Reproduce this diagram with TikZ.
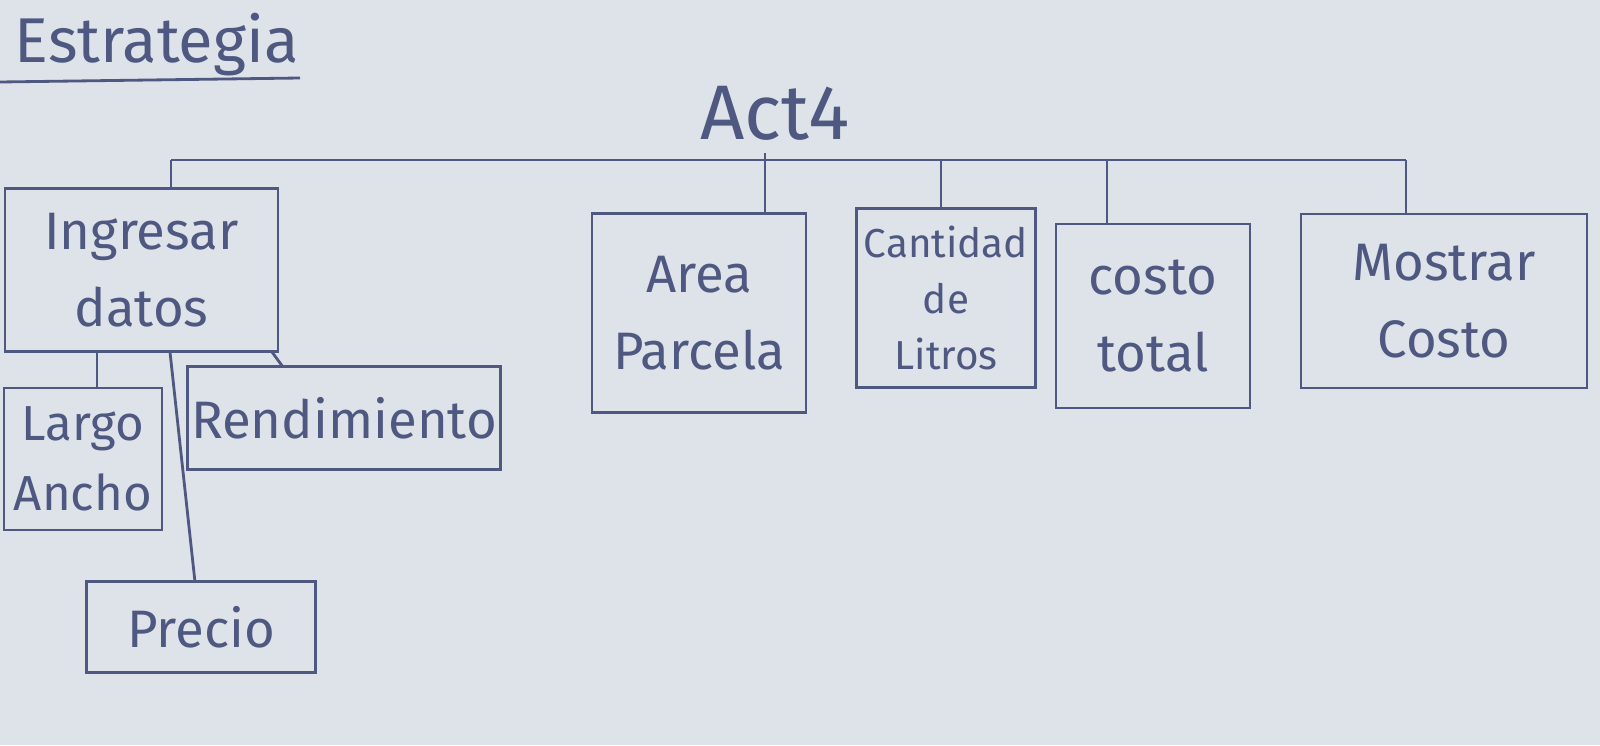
\documentclass[tikz,border=0pt]{standalone}
\usepackage{fontspec}
\setmainfont{Fira Sans}
\definecolor{papel}{RGB}{222,227,233}
\definecolor{tinta}{RGB}{78,88,128}
\begin{document}
\begin{tikzpicture}[
    caja/.style={draw=tinta, thick, text=tinta, align=center, inner sep=1pt,
      font=\fontsize{15}{22}\selectfont},
    rama/.style={draw=tinta, thick}
  ]
  \useasboundingbox (0,0) rectangle (16,-7.45);
  \fill [papel] (0,0) rectangle (16,-7.45);

  % titulo
  \node [text=tinta, font=\fontsize{18}{22}\selectfont, anchor=west] (titulo) at (0.02,-0.45) {Estrategia};
  \draw [tinta, thick] (0,-0.82) -- (3.0,-0.78);

  % raiz
  \node [text=tinta, font=\fontsize{22}{26}\selectfont] (raiz) at (7.75,-1.13) {Act4};

  % cajas del primer nivel
  \node [caja, minimum width=2.73cm, minimum height=1.63cm] (ingresar) at (1.415,-2.70) {Ingresar\\datos};
  \node [caja, minimum width=2.14cm, minimum height=1.99cm] (area) at (6.99,-3.13) {Area\\Parcela};
  \node [caja, minimum width=1.79cm, minimum height=1.79cm, font=\fontsize{11.5}{16}\selectfont] (cantidad) at (9.46,-2.98) {Cantidad\\de\\Litros};
  \node [caja, minimum width=1.94cm, minimum height=1.84cm] (costo) at (11.53,-3.16) {costo\\total};
  \node [caja, minimum width=2.86cm, minimum height=1.74cm] (mostrar) at (14.44,-3.01) {Mostrar\\Costo};

  % cajas del segundo nivel
  \node [caja, minimum width=1.58cm, minimum height=1.42cm, font=\fontsize{14}{20}\selectfont] (largo) at (0.83,-4.59) {Largo\\Ancho};
  \node [caja, minimum width=3.11cm, minimum height=1.03cm] (rendim) at (3.44,-4.18) {Rendimiento};
  \node [caja, minimum width=2.29cm, minimum height=0.91cm] (precio) at (2.01,-6.27) {Precio};

  % barra
  \coordinate (b1) at (1.71,-1.60);
  \coordinate (b2) at (7.65,-1.60);
  \coordinate (b3) at (9.41,-1.60);
  \coordinate (b4) at (11.07,-1.60);
  \coordinate (b5) at (14.06,-1.60);
  \draw [rama] (b1) -- (b5);
  \draw [rama] (raiz.south -| b2) -- (b2 |- area.north);
  \draw [rama] (b1) -- (b1 |- ingresar.north);
  \draw [rama] (b3) -- (b3 |- cantidad.north);
  \draw [rama] (b4) -- (b4 |- costo.north);
  \draw [rama] (b5) -- (b5 |- mostrar.north);

  % ramas de ingresar
  \coordinate (i1) at (0.97,-3.52);
  \coordinate (i2) at (1.70,-3.52);
  \coordinate (i3) at (2.72,-3.52);
  \draw [rama] (i1) -- (i1 |- largo.north);
  \draw [rama] (i2) -- (1.95,-5.82);
  \draw [rama] (i3) -- (2.83,-3.67);
\end{tikzpicture}
\end{document}
